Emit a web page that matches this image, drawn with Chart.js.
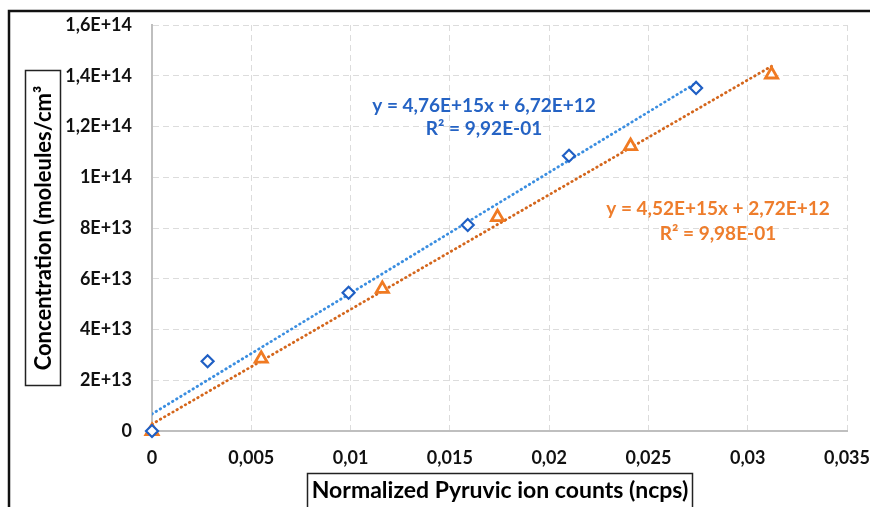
<!DOCTYPE html>
<html>
<head>
<meta charset="utf-8">
<script src="https://cdn.jsdelivr.net/npm/chart.js@4"></script>
<style>
  html, body { margin: 0; padding: 0; background: #fff; }
  #wrap { width: 870px; height: 507px; }
</style>
</head>
<body>
<div id="wrap"><canvas id="chart" width="870" height="507"></canvas></div>
<script>
// --- data ---
const blueX = [0, 0.0028, 0.0099, 0.0159, 0.0210, 0.0274];
const blueY = [0, 2.75e13, 5.45e13, 8.12e13, 1.085e14, 1.352e14];
const orangeX = [0, 0.0055, 0.0116, 0.0174, 0.0241, 0.0312];
const orangeY = [0, 2.85e13, 5.6e13, 8.43e13, 1.123e14, 1.405e14];

// trend lines (from the printed equations)
const blueFit = { slope: 4.76e15, intercept: 6.72e12 };
const orangeFit = { slope: 4.52e15, intercept: 2.72e12 };
const blueEq = ['y = 4,76E+15x + 6,72E+12', 'R² = 9,92E-01'];
const orangeEq = ['y = 4,52E+15x + 2,72E+12', 'R² = 9,98E-01'];

const xTickLabels = ['0', '0,005', '0,01', '0,015', '0,02', '0,025', '0,03', '0,035'];
const yTickLabels = ['0', '2E+13', '4E+13', '6E+13', '8E+13', '1E+14', '1,2E+14', '1,4E+14', '1,6E+14'];
const xTitle = 'Normalized Pyruvic ion counts (ncps)';
const yTitle = 'Concentration (moleules/cm³';

const FONT = 'Lato, "Open Sans", sans-serif';

function toPoints(xs, ys) {
    return xs.map((x, i) => ({ x: x, y: ys[i] }));
}
function fitLine(fit, xs) {
    const x0 = 0, x1 = xs[xs.length - 1];
    return [{ x: x0, y: fit.intercept + fit.slope * x0 }, { x: x1, y: fit.intercept + fit.slope * x1 }];
}

// frame, boxed axis titles and equation labels
const decorPlugin = {
    id: 'decor',
    beforeDraw(chart) {
        const ctx = chart.ctx;
        ctx.save();
        ctx.fillStyle = '#fff';
        ctx.fillRect(0, 0, chart.width, chart.height);
        ctx.restore();
    },
    afterDraw(chart) {
        const ctx = chart.ctx;
        ctx.save();
        // outer frame (left + top)
        ctx.strokeStyle = '#111';
        ctx.lineWidth = 2.5;
        ctx.beginPath();
        ctx.moveTo(9, 507);
        ctx.lineTo(9, 11);
        ctx.lineTo(870, 11);
        ctx.stroke();

        // y title box
        ctx.lineWidth = 1.5;
        ctx.strokeStyle = '#222';
        ctx.strokeRect(25.5, 70.5, 35, 315);
        ctx.fillStyle = '#000';
        ctx.font = 'bold 22px ' + FONT;
        ctx.textAlign = 'center';
        ctx.textBaseline = 'middle';
        ctx.save();
        ctx.translate(44, 228);
        ctx.rotate(-Math.PI / 2);
        ctx.fillText(yTitle, 0, 0);
        ctx.restore();

        // x title box
        ctx.strokeRect(307.5, 473.5, 385, 40);
        ctx.font = 'bold 23px ' + FONT;
        ctx.fillText(xTitle, 500, 491);

        // equations
        ctx.font = 'bold 19px ' + FONT;
        ctx.fillStyle = '#2563c4';
        ctx.fillText(blueEq[0], 484, 106);
        ctx.fillText(blueEq[1], 484, 129);
        ctx.fillStyle = '#ee7d2c';
        ctx.fillText(orangeEq[0], 718, 209);
        ctx.fillText(orangeEq[1], 718, 234);
        ctx.restore();
    }
};

new Chart(document.getElementById('chart'), {
    type: 'scatter',
    data: {
        datasets: [
            {
                label: 'blue',
                data: toPoints(blueX, blueY),
                pointStyle: 'rectRot',
                pointRadius: 6,
                pointBorderWidth: 2.2,
                borderColor: '#1f5fc4',
                backgroundColor: '#fff',
                clip: false,
                order: 0
            },
            {
                label: 'orange',
                data: toPoints(orangeX, orangeY),
                pointStyle: 'triangle',
                pointRadius: 7,
                pointBorderWidth: 2.8,
                borderColor: '#f07a22',
                backgroundColor: '#fff',
                clip: false,
                order: 0
            },
            {
                type: 'line',
                label: 'blue fit',
                data: fitLine(blueFit, blueX),
                borderColor: '#3b8ee0',
                borderWidth: 2.8,
                borderDash: [0.5, 4.3],
                borderCapStyle: 'round',
                pointRadius: 0,
                fill: false,
                order: 1
            },
            {
                type: 'line',
                label: 'orange fit',
                data: fitLine(orangeFit, orangeX),
                borderColor: '#d4661c',
                borderWidth: 2.8,
                borderDash: [0.5, 4.3],
                borderCapStyle: 'round',
                pointRadius: 0,
                fill: false,
                order: 1
            }
        ]
    },
    options: {
        responsive: false,
        animation: false,
        layout: { padding: { left: 0, right: 23, top: 25, bottom: 0 } },
        plugins: {
            legend: { display: false },
            tooltip: { enabled: false }
        },
        scales: {
            x: {
                type: 'linear',
                min: 0,
                max: 0.035,
                ticks: {
                    stepSize: 0.005,
                    padding: 16,
                    color: '#111',
                    font: { family: FONT, size: 18, weight: 'bold' },
                    callback: (v, i) => xTickLabels[i]
                },
                grid: { color: '#dcdcdc', lineWidth: 1, drawTicks: false },
                border: { color: '#bfbfbf', width: 2, dash: [6, 4] },
                afterFit: (s) => { s.height = 76; s.paddingLeft = 0; s.paddingRight = 0; }
            },
            y: {
                type: 'linear',
                min: 0,
                max: 1.6e14,
                ticks: {
                    stepSize: 2e13,
                    padding: 20,
                    color: '#111',
                    font: { family: FONT, size: 18, weight: 'bold' },
                    callback: (v, i) => yTickLabels[i]
                },
                grid: { color: '#dcdcdc', lineWidth: 1, drawTicks: false },
                border: { color: '#bfbfbf', width: 2, dash: [6, 4] },
                afterFit: (s) => { s.width = 152; s.paddingTop = 0; s.paddingBottom = 0; }
            }
        }
    },
    plugins: [decorPlugin]
});
</script>
</body>
</html>
